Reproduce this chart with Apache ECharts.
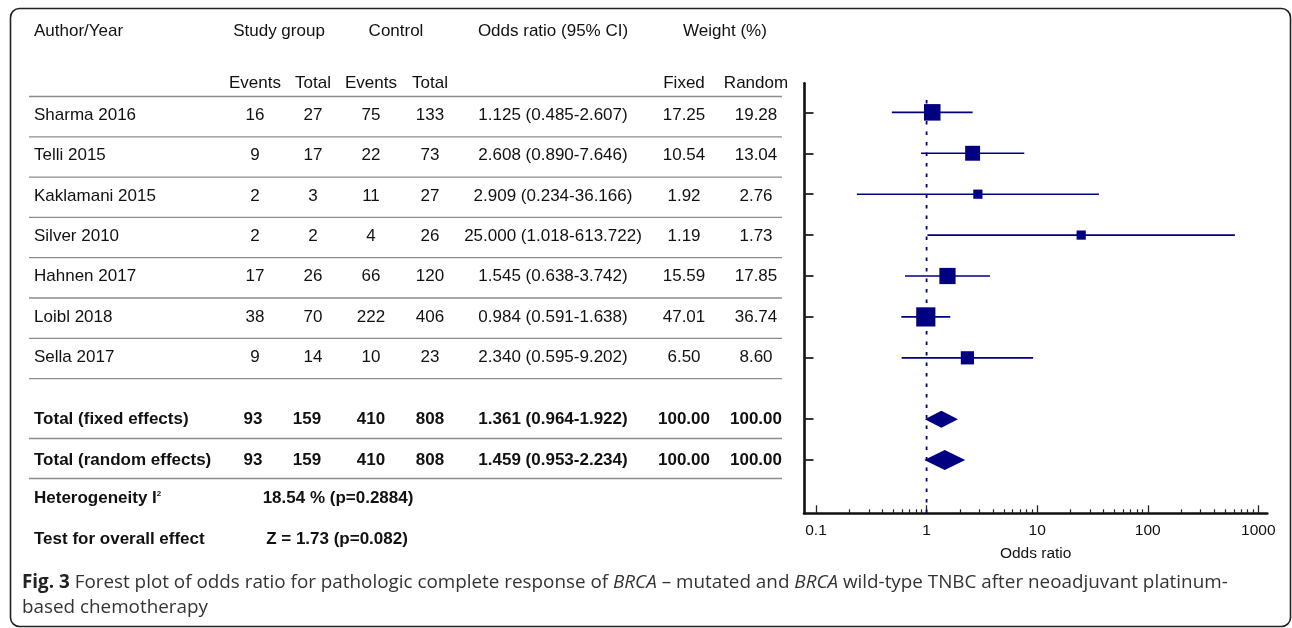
<!DOCTYPE html>
<html><head><meta charset="utf-8">
<script src="https://cdn.jsdelivr.net/npm/echarts@6/dist/echarts.min.js"></script>
<style>html,body{margin:0;padding:0;background:#fff}#c{width:1292px;height:628px}</style>
</head><body><div id="c"></div><script>
// ---------------- data ----------------
const studies = ['Sharma 2016','Telli 2015','Kaklamani 2015','Silver 2010','Hahnen 2017','Loibl 2018','Sella 2017'];
const studyEvents = [16, 9, 2, 2, 17, 38, 9];
const studyTotal = [27, 17, 3, 2, 26, 70, 14];
const controlEvents = [75, 22, 11, 4, 66, 222, 10];
const controlTotal = [133, 73, 27, 26, 120, 406, 23];
const oddsRatio = [1.125, 2.608, 2.909, 25.000, 1.545, 0.984, 2.340];
const ciLow = [0.485, 0.890, 0.234, 1.018, 0.638, 0.591, 0.595];
const ciHigh = [2.607, 7.646, 36.166, 613.722, 3.742, 1.638, 9.202];
const weightFixed = ['17.25','10.54','1.92','1.19','15.59','47.01','6.50'];
const weightRandom = ['19.28','13.04','2.76','1.73','17.85','36.74','8.60'];
const pooledLabels = ['Total (fixed effects)', 'Total (random effects)'];
const pooledOR = [1.361, 1.459];
const pooledLow = [0.964, 0.953];
const pooledHigh = [1.922, 2.234];
const pooledCounts = [93, 159, 410, 808];
const pooledWeight = ['100.00', '100.00'];
const heterogeneityText = '18.54 % (p=0.2884)';
const overallEffectText = 'Z = 1.73 (p=0.082)';
const xTickValues = [0.1, 1, 10, 100, 1000];
const headerTop = ['Study group', 'Control', 'Odds ratio (95% CI)', 'Weight (%)'];
const headerSub = ['Events', 'Total', 'Events', 'Total', 'Fixed', 'Random'];

// ---------------- layout ----------------
const FONT = '"Liberation Sans", Arial, Helvetica, sans-serif';
const TXT = '#111';
const NAVY = '#000080';
const rowPos = studies.map((_, i) => i);
const pooledPos = [7.5, 8.5];
const diamondHalf = [8.5, 10];
const L10 = Math.log10;
const fmt3 = v => v.toFixed(3);
const orText = (o, l, h) => fmt3(o) + ' (' + fmt3(l) + '-' + fmt3(h) + ')';
const squareSize = w => Math.max(9.2, 4.4 + 4.1 * Math.log(parseFloat(w)));

const minorTicks = [];
for (let d = -1; d < 3; d++) for (let k = 2; k <= 9; k++) minorTicks.push(L10(k * Math.pow(10, d)));

// table geometry
const colX = {author: 34, se: 255, st: 313, ce: 371, ct: 430, or: 553, wf: 684, wr: 756};
const tableRowY = i => 115.5 + 40.3 * i;
const pooledRowY = [419.5, 460.5];

const g = [];
function txt(text, x, y, opt) {
  opt = opt || {};
  g.push({type: 'text', silent: true, style: Object.assign({
    text: text, x: x, y: y, fill: TXT, fontSize: 17, fontFamily: FONT,
    fontWeight: opt.bold ? 'bold' : 'normal',
    align: opt.align || 'center', verticalAlign: 'middle',
    textAlign: opt.align || 'center', textVerticalAlign: 'middle'
  }, opt.style || {})});
}
function hline(y) {
  g.push({type: 'line', silent: true, shape: {x1: 29, y1: y, x2: 782, y2: y},
    style: {stroke: '#8c8c8c', lineWidth: 1.3}});
}
// border
g.push({type: 'rect', silent: true, shape: {x: 10.5, y: 8.5, width: 1280, height: 618, r: 9},
  style: {fill: 'none', stroke: '#222', lineWidth: 1.6}});
// headers
txt('Author/Year', colX.author, 31, {align: 'left'});
txt(headerTop[0], 279, 31);
txt(headerTop[1], 396, 31);
txt(headerTop[2], colX.or, 31);
txt(headerTop[3], 725, 31);
[colX.se, colX.st, colX.ce, colX.ct, colX.wf, colX.wr].forEach((x, k) => txt(headerSub[k], x, 83));
// separators
for (let k = 0; k <= 7; k++) hline(96.5 + 40.3 * k);
hline(438.5); hline(478.5);
// study rows
studies.forEach((s, i) => {
  const y = tableRowY(i);
  txt(s, colX.author, y, {align: 'left'});
  txt(String(studyEvents[i]), colX.se, y);
  txt(String(studyTotal[i]), colX.st, y);
  txt(String(controlEvents[i]), colX.ce, y);
  txt(String(controlTotal[i]), colX.ct, y);
  txt(orText(oddsRatio[i], ciLow[i], ciHigh[i]), colX.or, y);
  txt(weightFixed[i], colX.wf, y);
  txt(weightRandom[i], colX.wr, y);
});
pooledLabels.forEach((s, j) => {
  const y = pooledRowY[j], b = {bold: true};
  txt(s, colX.author, y, {align: 'left', bold: true});
  txt(String(pooledCounts[0]), colX.se - 2, y, b);
  txt(String(pooledCounts[1]), colX.st - 6, y, b);
  txt(String(pooledCounts[2]), colX.ce, y, b);
  txt(String(pooledCounts[3]), colX.ct, y, b);
  txt(orText(pooledOR[j], pooledLow[j], pooledHigh[j]), colX.or, y, b);
  txt(pooledWeight[j], colX.wf, y, b);
  txt(pooledWeight[j], colX.wr, y, b);
});
txt('{b|Heterogeneity I}{s|2}', colX.author, 498, {align: 'left', style: {
  rich: {b: {fontSize: 17, fontWeight: 'bold', fontFamily: FONT, fill: TXT},
         s: {fontSize: 8, fontWeight: 'bold', fontFamily: FONT, fill: TXT, verticalAlign: 'top'}}}});
txt(heterogeneityText, 338, 498, {bold: true});
txt('Test for overall effect', colX.author, 539, {align: 'left', bold: true});
txt(overallEffectText, 337, 539, {bold: true});
// caption
const CAP = '"Open Sans", "Noto Sans", sans-serif';
const CAPSIZE = 18.85;
g.push({type: 'text', silent: true, style: {
  text: '{b|Fig. 3} Forest plot of odds ratio for pathologic complete response of {i|BRCA} \u2013 mutated and {i|BRCA} wild-type TNBC after neoadjuvant platinum-',
  x: 22, y: 583, fill: '#333', fontSize: CAPSIZE, fontFamily: CAP, align: 'left', verticalAlign: 'middle',
  rich: {b: {fontWeight: 'bold', fontSize: CAPSIZE, fontFamily: CAP, fill: '#222'},
         i: {fontStyle: 'italic', fontSize: CAPSIZE, fontFamily: CAP, fill: '#333'}}}});
g.push({type: 'text', silent: true, style: {text: 'based chemotherapy', x: 22, y: 608, fill: '#333',
  fontSize: CAPSIZE, fontFamily: CAP, align: 'left', verticalAlign: 'middle'}});

// ---------------- series data ----------------
const ciData = studies.map((_, i) => [L10(ciLow[i]), L10(ciHigh[i]), rowPos[i]]);
const sqData = studies.map((_, i) => ({value: [L10(oddsRatio[i]), rowPos[i]], symbolSize: squareSize(weightRandom[i])}));
const dmData = pooledOR.map((o, j) => [L10(pooledLow[j]), L10(o), L10(pooledHigh[j]), pooledPos[j], j]);

const xMin = -1.1085, xMax = 3.081;
const option = {
  animation: false,
  backgroundColor: '#fff',
  grid: {left: 804, right: 24.7, top: 83.3, bottom: 114.7, containLabel: false},
  xAxis: [{
    type: 'value', min: xMin, max: xMax, position: 'bottom',
    axisLine: {show: true, onZero: false, lineStyle: {color: '#111', width: 2.6}},
    axisTick: {show: true, inside: true, length: 8, customValues: xTickValues.map(L10), lineStyle: {color: '#222', width: 1.3}},
    axisLabel: {show: true, customValues: xTickValues.map(L10), margin: 9, color: TXT, fontSize: 15.5, fontFamily: FONT,
      formatter: v => String(xTickValues[Math.round(v) + 1])},
    splitLine: {show: false},
    name: 'Odds ratio', nameLocation: 'middle', nameGap: 32,
    nameTextStyle: {color: TXT, fontSize: 15.5, fontFamily: FONT}
  }, {
    type: 'value', min: xMin, max: xMax, position: 'bottom',
    axisLine: {show: false, onZero: false},
    axisTick: {show: true, inside: true, length: 4, customValues: minorTicks, lineStyle: {color: '#222', width: 1.2}},
    axisLabel: {show: false}, splitLine: {show: false}
  }],
  yAxis: {
    type: 'value', inverse: true, min: -0.71, max: 9.8,
    axisLine: {show: true, onZero: false, lineStyle: {color: '#111', width: 2.6}},
    axisTick: {show: true, inside: true, length: 9.5, customValues: rowPos.concat(pooledPos), lineStyle: {color: '#222', width: 1.8}},
    axisLabel: {show: false}, splitLine: {show: false}
  },
  series: [{
    type: 'line', name: 'no effect', xAxisIndex: 0, symbol: 'none',
    data: [[0, -0.3], [0, 9.8]],
    lineStyle: {color: NAVY, width: 1.8, type: [3.5, 7]}, z: 2
  }, {
    type: 'custom', name: 'CI', xAxisIndex: 0, data: ciData, encode: {x: [0, 1], y: 2}, z: 3,
    renderItem: (params, api) => {
      const a = api.coord([api.value(0), api.value(2)]);
      const b = api.coord([api.value(1), api.value(2)]);
      return {type: 'line', shape: {x1: a[0], y1: a[1], x2: b[0], y2: b[1]},
        style: {stroke: NAVY, lineWidth: 1.6}};
    }
  }, {
    type: 'scatter', name: 'OR', xAxisIndex: 0, data: sqData, symbol: 'rect', z: 4,
    itemStyle: {color: NAVY, opacity: 1}
  }, {
    type: 'custom', name: 'pooled', xAxisIndex: 0, data: dmData, encode: {x: [0, 1, 2], y: 3}, z: 4,
    renderItem: (params, api) => {
      const lo = api.coord([api.value(0), api.value(3)]);
      const mid = api.coord([api.value(1), api.value(3)]);
      const hi = api.coord([api.value(2), api.value(3)]);
      const h = diamondHalf[api.value(4)];
      return {type: 'polygon', shape: {points: [[lo[0], lo[1]], [mid[0], mid[1] - h], [hi[0], hi[1]], [mid[0], mid[1] + h]]},
        style: {fill: NAVY}};
    }
  }],
  graphic: {elements: g}
};
const chart = echarts.init(document.getElementById('c'));
chart.setOption(option);
</script></body></html>
